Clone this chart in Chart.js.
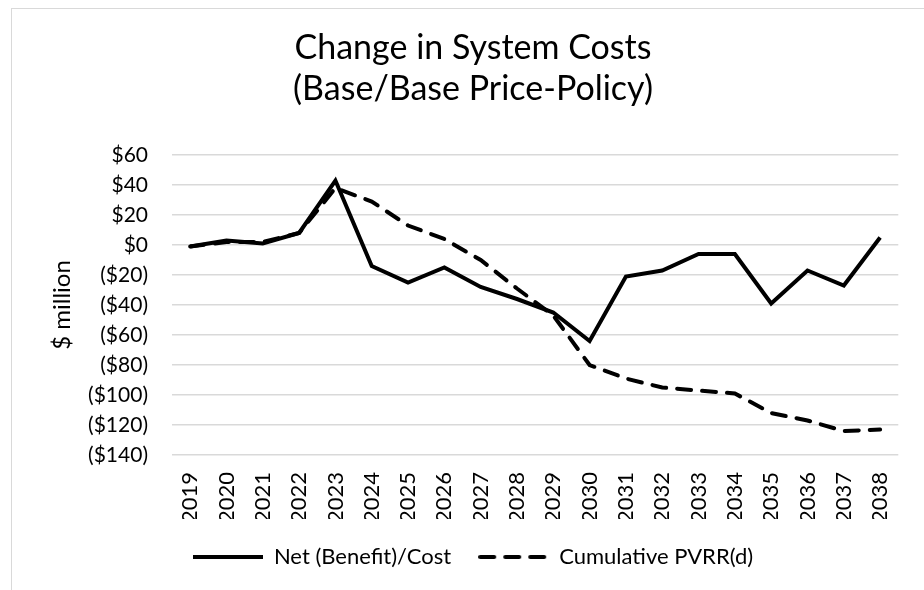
<!DOCTYPE html>
<html>
<head>
<meta charset="utf-8">
<script src="https://cdn.jsdelivr.net/npm/chart.js@4/dist/chart.umd.min.js"></script>
<style>
  html, body { margin: 0; padding: 0; background: #fff; }
  #frame { position: absolute; left: 11px; top: 8px; width: 1000px; height: 700px; border: 1.5px solid #d9d9d9; }
  #wrap { position: absolute; left: 0; top: 0; width: 924px; height: 590px; }
</style>
</head>
<body>
<div id="frame"></div>
<div id="wrap"><canvas id="costChart"></canvas></div>
<script>
// years on the x axis
var years = ['2019', '2020', '2021', '2022', '2023', '2024', '2025', '2026', '2027', '2028',
             '2029', '2030', '2031', '2032', '2033', '2034', '2035', '2036', '2037', '2038'];

// $ million
var netCost = [-1, 3, 1, 8, 43, -14, -25, -15, -28, -36, -45, -64, -21, -17, -6, -6, -39, -17, -27, 5];
var cumulativePvrr = [-1, 2, 2, 8, 38, 29, 13, 4, -10, -29, -47, -80, -89, -95, -97, -99, -112, -117, -124, -123];

// y axis ticks
var yMin = -140;
var yMax = 60;
var yStep = 20;

var lineDash = [14, 11];

document.addEventListener('DOMContentLoaded', function () {
    Chart.defaults.font.family = 'Lato';
    Chart.defaults.color = '#000';

    var ctx = document.getElementById('costChart').getContext('2d');

    // money format with brackets for negatives
    function money(v) {
        return v < 0 ? '($' + (-v) + ')' : '$' + v;
    }

    // small canvases used as legend symbols (the built-in line style ignores the dash)
    function legendLine(dash) {
        var c = document.createElement('canvas');
        c.width = 70;
        c.height = 8;
        var g = c.getContext('2d');
        g.strokeStyle = '#000';
        g.lineWidth = 4;
        g.lineCap = dash.length ? 'round' : 'butt';
        g.setLineDash(dash);
        g.beginPath();
        g.moveTo(dash.length ? 2 : 0, 4);
        g.lineTo(70, 4);
        g.stroke();
        return c;
    }

    new Chart(ctx, {
        type: 'line',
        data: {
            labels: years,
            datasets: [{
                label: 'Net (Benefit)/Cost',
                data: netCost,
                borderColor: '#000',
                backgroundColor: '#000',
                borderWidth: 4,
                pointRadius: 0,
                pointStyle: legendLine([]),
                tension: 0,
                fill: false
            }, {
                label: 'Cumulative PVRR(d)',
                data: cumulativePvrr,
                borderColor: '#000',
                backgroundColor: '#000',
                borderWidth: 4,
                borderDash: lineDash,
                borderCapStyle: 'round',
                pointRadius: 0,
                pointStyle: legendLine(lineDash),
                tension: 0,
                fill: false
            }]
        },
        options: {
            responsive: true,
            maintainAspectRatio: false,
            animation: false,
            layout: {
                padding: { left: 41, right: 19, top: 0, bottom: 12 }
            },
            scales: {
                x: {
                    offset: true,
                    grid: { display: false, drawTicks: false },
                    border: { display: false },
                    ticks: {
                        minRotation: 90,
                        maxRotation: 90,
                        padding: 17,
                        font: { size: 22 }
                    },
                    afterFit: function (scale) { scale.height = 64; }
                },
                y: {
                    min: yMin,
                    max: yMax,
                    grid: { color: '#d9d9d9', lineWidth: 1.5, drawTicks: false },
                    border: { display: false },
                    ticks: {
                        stepSize: yStep,
                        padding: 24,
                        font: { size: 21 },
                        callback: function (v) { return money(v); }
                    },
                    title: {
                        display: true,
                        text: '$ million',
                        font: { size: 24 },
                        padding: { top: 7, bottom: 0 }
                    },
                    afterFit: function (scale) { scale.width = 131; }
                }
            },
            plugins: {
                title: {
                    display: true,
                    text: ['Change in System Costs', '(Base/Base Price-Policy)'],
                    font: { size: 34, weight: 'normal', lineHeight: 1.206 },
                    color: '#000',
                    padding: { top: 27.5, bottom: 45.5 }
                },
                legend: {
                    position: 'bottom',
                    labels: {
                        usePointStyle: true,
                        pointStyleWidth: 70,
                        padding: 27,
                        font: { size: 22 }
                    }
                },
                tooltip: { enabled: false }
            }
        }
    });
});
</script>
</body>
</html>
